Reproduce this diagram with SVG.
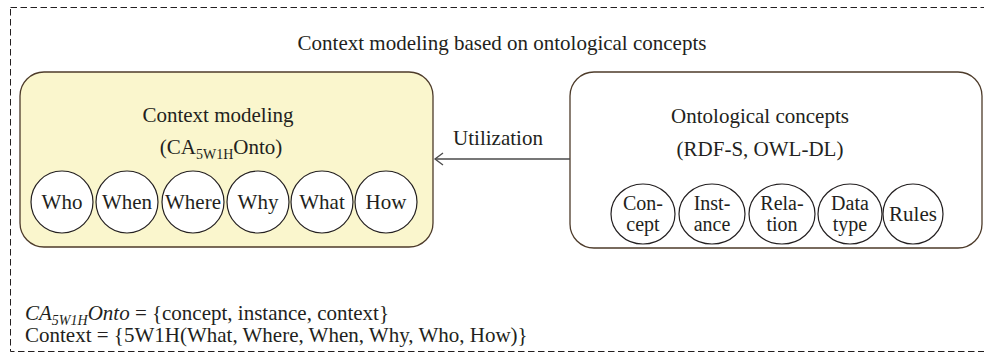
<svg xmlns="http://www.w3.org/2000/svg" width="984" height="355" viewBox="0 0 984 355">
<style>
text{font-family:"Liberation Serif","Times New Roman",serif;fill:#231f20;font-size:21px}
.box{stroke:#4d3b2a;stroke-width:1.3}
.c{fill:#fff;stroke:#231f20;stroke-width:1.2}
.m{text-anchor:middle}
.sub{font-size:14px}
.t2{font-size:20px}
</style>
<defs>
<marker id="arr" markerWidth="12" markerHeight="14" refX="9" refY="7" orient="auto" markerUnits="userSpaceOnUse">
<path d="M1,1 L9,7 L1,13" fill="none" stroke="#4a4a4a" stroke-width="1.3"/>
</marker>
</defs>
<rect x="10.5" y="7.5" width="990" height="344" fill="none" stroke="#231f20" stroke-width="1" stroke-dasharray="6.5,3.5"/>
<text class="m" x="502" y="50">Context modeling based on ontological concepts</text>
<g id="context-modeling">
<rect class="box" x="20" y="72" width="413" height="175" rx="24" fill="#faf6cd"/>
<text class="m" x="218" y="122">Context modeling</text>
<text class="m" x="221" y="154">(CA<tspan class="sub" dy="5">5W1H</tspan><tspan dy="-5">Onto)</tspan></text>
<circle class="c" cx="62" cy="202" r="31"/><text class="m" x="62" y="209">Who</text>
<circle class="c" cx="127" cy="202" r="31"/><text class="m" x="127" y="209">When</text>
<circle class="c" cx="193" cy="202" r="31"/><text class="m" x="193" y="209">Where</text>
<circle class="c" cx="258" cy="202" r="31"/><text class="m" x="258" y="209">Why</text>
<circle class="c" cx="322" cy="202" r="31"/><text class="m" x="322" y="209">What</text>
<circle class="c" cx="386" cy="202" r="31"/><text class="m" x="386" y="209">How</text>
</g>
<g id="ontological-concepts">
<rect class="box" x="570" y="72" width="412" height="176" rx="24" fill="#fff"/>
<text class="m" x="760" y="123">Ontological concepts</text>
<text class="m" x="760" y="156">(RDF-S, OWL-DL)</text>
<ellipse class="c" cx="643" cy="214" rx="32" ry="30"/><text class="m t2" x="643" y="210">Con-</text><text class="m t2" x="643" y="231">cept</text>
<ellipse class="c" cx="712" cy="214" rx="33" ry="30"/><text class="m t2" x="712" y="210">Inst-</text><text class="m t2" x="712" y="231">ance</text>
<ellipse class="c" cx="782" cy="214" rx="33" ry="30"/><text class="m t2" x="782" y="210">Rela-</text><text class="m t2" x="782" y="231">tion</text>
<ellipse class="c" cx="850" cy="214" rx="32" ry="30"/><text class="m t2" x="850" y="210">Data</text><text class="m t2" x="850" y="231">type</text>
<ellipse class="c" cx="913" cy="214" rx="30" ry="30"/><text class="m" x="913" y="221">Rules</text>
</g>
<g id="connectors">
<line x1="570" y1="159" x2="435" y2="159" stroke="#4a4a4a" stroke-width="1.5" marker-end="url(#arr)"/>
<text class="m" x="498" y="145">Utilization</text>
</g>
<text x="25" y="320"><tspan font-style="italic">CA</tspan><tspan class="sub" font-style="italic" dy="5">5W1H</tspan><tspan font-style="italic" dy="-5">Onto</tspan> = {concept, instance, context}</text>
<text x="25" y="342">Context = {5W1H(What, Where, When, Why, Who, How)}</text>
</svg>
